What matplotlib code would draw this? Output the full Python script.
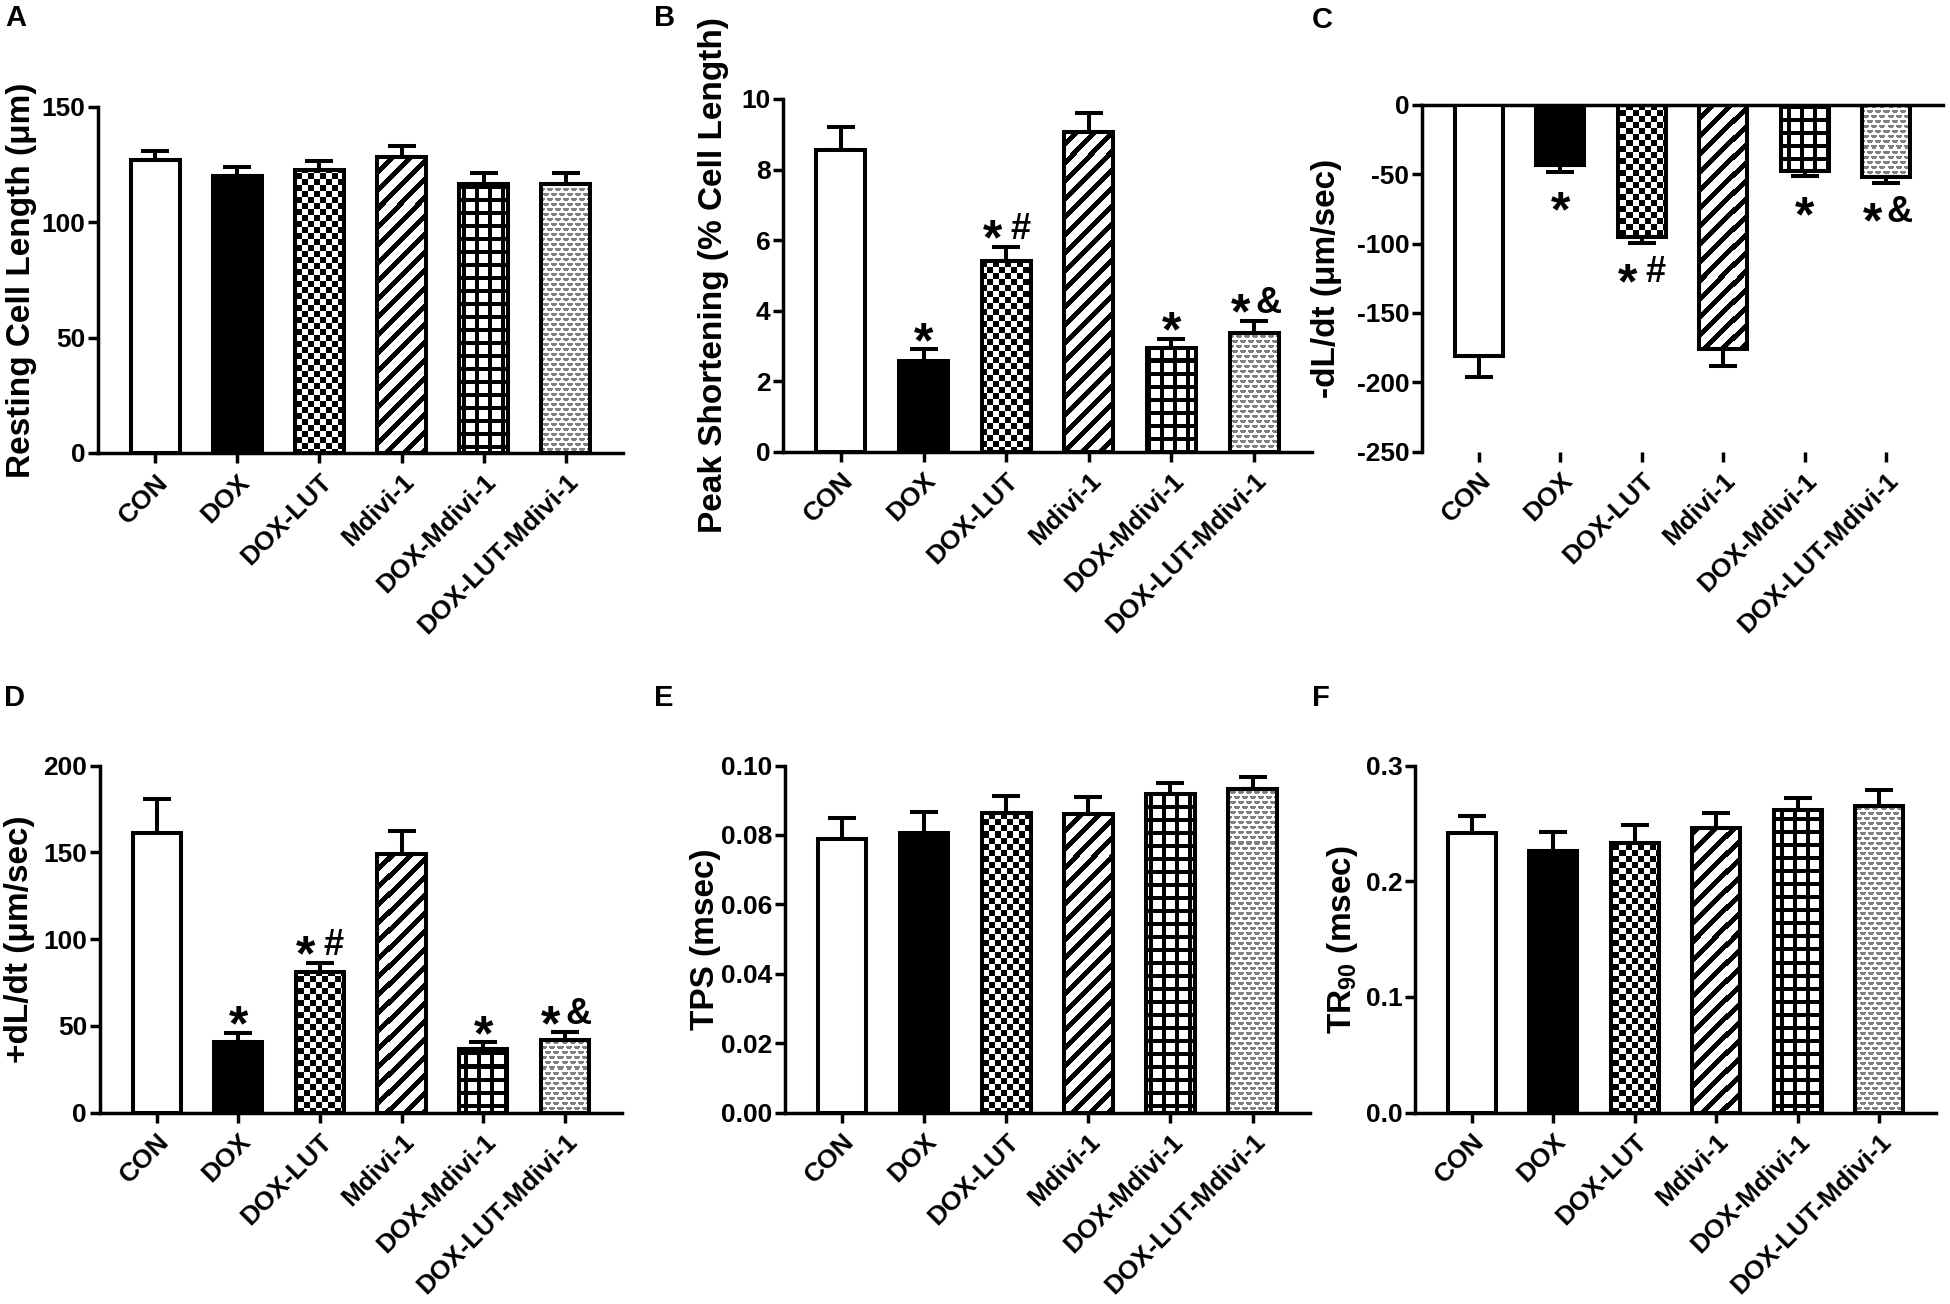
import numpy as np
import matplotlib
matplotlib.use("Agg")
import matplotlib.pyplot as plt
import matplotlib.ticker as mticker

plt.rcParams["font.family"] = ["Liberation Sans", "DejaVu Sans"]
plt.rcParams["font.weight"] = "bold"
plt.rcParams["mathtext.fontset"] = "custom"
plt.rcParams["mathtext.rm"] = "Liberation Sans:bold"
plt.rcParams["mathtext.bf"] = "Liberation Sans:bold"
plt.rcParams["mathtext.it"] = "Liberation Sans:bold"

# ── data ─────────────────────────────────────────────────────────────────────
groups = ["CON", "DOX", "DOX-LUT", "Mdivi-1", "DOX-Mdivi-1", "DOX-LUT-Mdivi-1"]

resting_len = [127, 120, 122.5, 128.5, 116.5, 116.5]
resting_err = [4, 4, 4, 4.5, 5, 5]

peak_short = [8.55, 2.57, 5.4, 9.05, 2.93, 3.37]
peak_err = [0.65, 0.33, 0.4, 0.55, 0.27, 0.33]

minus_dldt = [-181, -43.5, -95.5, -176, -47.5, -52]
minus_err = [15, 4.5, 4, 12, 4, 4]

plus_dldt = [161, 40.6, 81, 149, 36.5, 41.6]
plus_err = [19.5, 5.3, 5.3, 13.5, 4, 4.7]

tps = [0.0788, 0.0805, 0.0863, 0.086, 0.0918, 0.0932]
tps_err = [0.006, 0.006, 0.005, 0.005, 0.0033, 0.0036]

tr90 = [0.242, 0.226, 0.233, 0.2457, 0.262, 0.265]
tr90_err = [0.014, 0.0165, 0.0155, 0.013, 0.0096, 0.0137]

sig_marks = ["", "*", "*#", "", "*", "*&"]

# ── layout (pixels of a 1950 x 1304 canvas) ─────────────────────────────────
W, H, DPI = 1950, 1304, 100

fills = ["white", "black", "checker", "stripes", "grid", "scallop"]
STAR_SIZE = 36
SYM_SIZE = 26


def texture(kind, w, h):
    X, Y = np.meshgrid(np.arange(w), np.arange(h))
    img = np.ones((h, w))
    if kind == "checker":
        img[((X // 6 + Y // 6) % 2) == 0] = 0.0
    elif kind == "stripes":
        img[((X + Y) % 18) < 7] = 0.0
    elif kind == "grid":
        img[(X % 13 < 4) | (Y % 13 < 4)] = 0.0
    elif kind == "scallop":
        r = Y // 5
        u = (X + (r % 2) * 4) % 8
        v = Y % 5
        blob = (u >= 1) & (u <= 6) & (v >= 1) & (v <= 3)
        blob &= ~((v == 3) & ((u == 1) | (u == 6)))
        img[blob] = 0.5
    return np.dstack([img, img, img])


def panel(fig, box, letter, letter_xy, vals, errs, ylabel, ylim, yticks, fmt,
          label_x, marks=None, negative=False):
    l, r, t, b = box
    ax = fig.add_axes([l / W, 1 - b / H, (r - l) / W, (b - t) / H])
    x = np.arange(len(groups))
    xlim = (-0.7, 5.7)

    face = ["white" if f == "white" else "black" if f == "black" else "none" for f in fills]
    bars = ax.bar(x, vals, width=0.59, color=face, edgecolor="black",
                  linewidth=2.9, zorder=3)

    # pattern fills, clipped to each bar outline
    pw, ph = int(round(r - l)), int(round(b - t))
    for bar, kind in zip(bars, fills):
        if kind in ("white", "black"):
            continue
        im = ax.imshow(texture(kind, pw, ph), extent=(xlim[0], xlim[1], ylim[0], ylim[1]),
                       origin="upper", aspect="auto", interpolation="nearest", zorder=2)
        im.set_clip_path(bar)

    zeros = [0] * len(vals)
    yerr = [errs, zeros] if negative else [zeros, errs]
    ax.errorbar(x, vals, yerr=yerr, fmt="none", ecolor="black", elinewidth=2.9,
                capsize=10, capthick=2.9, zorder=2.5)

    ax.set_xlim(*xlim)
    ax.set_ylim(*ylim)
    ax.set_yticks(yticks)
    ax.yaxis.set_major_formatter(mticker.FormatStrFormatter(fmt))
    ax.set_xticks(x)
    ax.set_xticklabels(groups, rotation=45, ha="right", va="top",
                       rotation_mode="anchor", fontsize=19, fontweight="bold")
    ax.tick_params(axis="y", labelsize=19, width=2.5, length=7, pad=2)
    ax.tick_params(axis="x", width=2.5, length=7, pad=5)

    ax.spines["right"].set_visible(False)
    if negative:
        ax.spines["bottom"].set_visible(False)
        ax.spines["top"].set_linewidth(2.5)
    else:
        ax.spines["top"].set_visible(False)
        ax.spines["bottom"].set_linewidth(2.5)
    ax.spines["left"].set_linewidth(2.5)
    ax.patch.set_alpha(0)

    ax.set_ylabel(ylabel, fontsize=24, fontweight="bold")
    ax.yaxis.set_label_coords(label_x, 0.5)

    if marks:
        for i, m in enumerate(marks):
            if not m:
                continue
            end = vals[i] - errs[i] if negative else vals[i] + errs[i]
            centre = -19.0 if negative else 15.0
            star_dx = -10 if len(m) > 1 else 0
            ax.annotate("*", xy=(i, end), xytext=(star_dx, centre - 0.57 * STAR_SIZE),
                        textcoords="offset points", ha="center", va="baseline",
                        fontsize=STAR_SIZE, fontweight="bold", zorder=5)
            if len(m) > 1:
                ax.annotate(m[1], xy=(i, end), xytext=(10, centre - 0.36 * SYM_SIZE),
                            textcoords="offset points", ha="center", va="baseline",
                            fontsize=SYM_SIZE, fontweight="bold", zorder=5)

    fig.text(letter_xy[0] / W, 1 - letter_xy[1] / H, letter, fontsize=21,
             fontweight="bold", ha="left", va="top")
    return ax


fig = plt.figure(figsize=(W / DPI, H / DPI), dpi=DPI)
fig.patch.set_facecolor("white")

panel(fig, (98, 623, 107, 453), "A", (5, 4), resting_len, resting_err,
      "Resting Cell Length (μm)", (0, 150), [0, 50, 100, 150], "%d", -0.116)
panel(fig, (783, 1312, 99, 451.6), "B", (654, 4), peak_short, peak_err,
      "Peak Shortening (% Cell Length)", (0, 10), [0, 2, 4, 6, 8, 10], "%d", -0.102,
      marks=sig_marks)
panel(fig, (1422, 1943, 105, 451.6), "C", (1312, 6), minus_dldt, minus_err,
      "-dL/dt (μm/sec)", (-250, 0), [0, -50, -100, -150, -200, -250], "%d", -0.154,
      marks=sig_marks, negative=True)
panel(fig, (99.5, 622, 765.6, 1112.6), "D", (4, 684), plus_dldt, plus_err,
      "+dL/dt (μm/sec)", (0, 200), [0, 50, 100, 150, 200], "%d", -0.124,
      marks=sig_marks)
panel(fig, (784.7, 1310, 765.6, 1112.6), "E", (654, 684), tps, tps_err,
      "TPS (msec)", (0, 0.10), [0, 0.02, 0.04, 0.06, 0.08, 0.10], "%.2f", -0.121)
panel(fig, (1415, 1936, 765.6, 1112.6), "F", (1312, 684), tr90, tr90_err,
      "TR$_{90}$ (msec)", (0, 0.3), [0, 0.1, 0.2, 0.3], "%.1f", -0.105)

fig.savefig("out.png", dpi=DPI, facecolor="white")
